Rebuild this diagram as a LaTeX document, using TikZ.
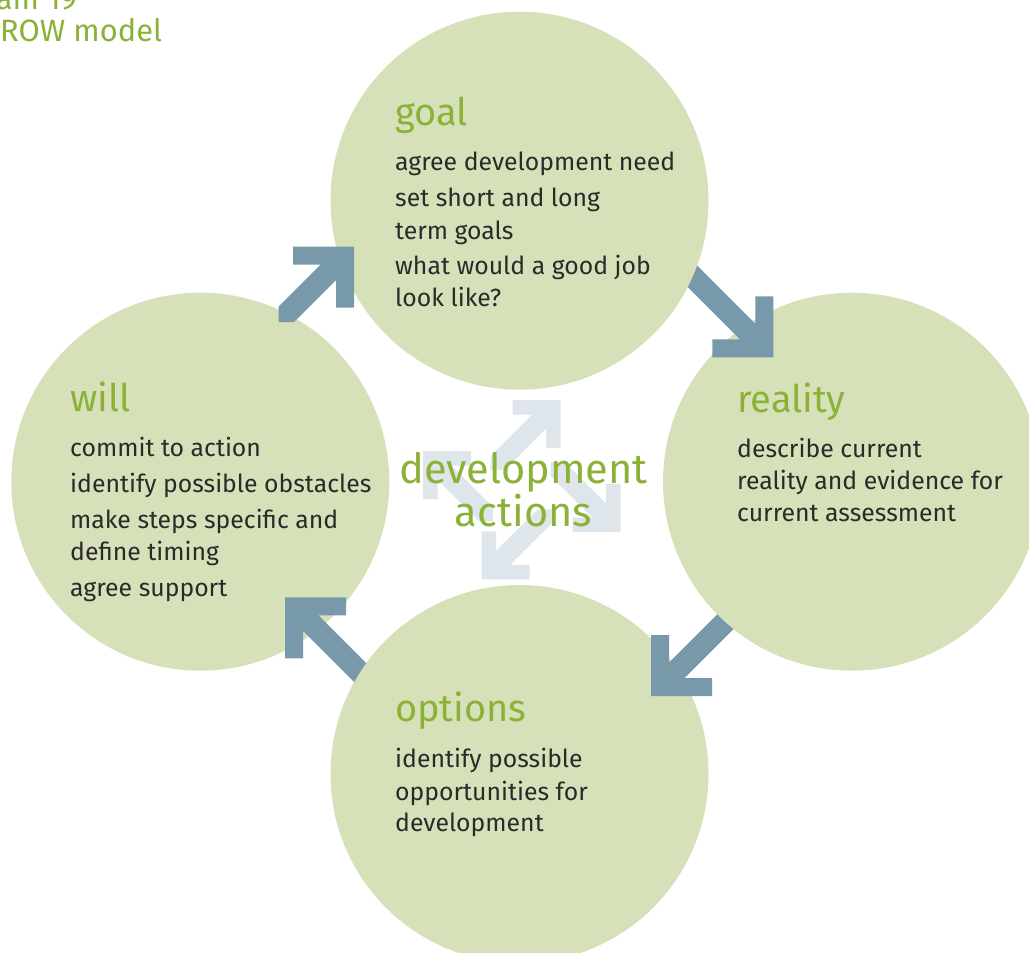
\documentclass[tikz,border=0pt]{standalone}
\usepackage{fontspec}
\setmainfont{Fira Sans}
\definecolor{circfill}{HTML}{D6E1B9}
\definecolor{arrowblue}{HTML}{7899AA}
\definecolor{arrowlight}{HTML}{DEE5EB}
\definecolor{growgreen}{HTML}{8BB237}
\definecolor{textdark}{HTML}{2A2A2A}
\newcommand{\GArrow}[4]{\fill (-#1,0) -- (0,0) -- (0,#1) -- (-#2,#1) -- (-#2,#2+#3) -- (#3-#4,#4) -- (-#4,#4) -- (-#4,#4-#3) -- (-#3-#2,#2) -- (-#1,#2) -- cycle;}
\begin{document}
\begin{tikzpicture}[x=1pt,y=-1pt,
  circ/.style={circle, minimum size=378pt, inner sep=0pt, fill=circfill, draw=none},
  body/.style={anchor=base west, inner sep=0pt, text=textdark, font=\fontsize{24.8}{28}\selectfont},
  head/.style={anchor=base west, inner sep=0pt, text=growgreen, font=\fontsize{38}{42}\selectfont},
  centre/.style={anchor=base, inner sep=0pt, text=growgreen, font=\fontsize{41.5}{46}\selectfont},
  ttl/.style={inner sep=0pt, text=growgreen, font=\fontsize{30.8}{34}\selectfont}]
\useasboundingbox (0,0) rectangle (1029,953);
\clip (0,0) rectangle (1029,953);

% light centre arrows
\begin{scope}[shift={(560.7,400)}, fill=arrowlight] \GArrow{48}{14.5}{14}{70} \end{scope}
\begin{scope}[shift={(620.7,532)}, yscale=-1, fill=arrowlight] \GArrow{48}{14.5}{14}{70} \end{scope}
\begin{scope}[shift={(481.7,579.3)}, xscale=-1, yscale=-1, fill=arrowlight] \GArrow{48}{14.5}{14}{70} \end{scope}
\begin{scope}[shift={(423,451)}, xscale=-1, fill=arrowlight] \GArrow{48}{14.5}{14}{70} \end{scope}

% circles
\node[circ] (goal) at (519.5,200.7) {};
\node[circ] (reality) at (852,481.7) {};
\node[circ] (options) at (519.5,774) {};
\node[circ] (will) at (200.3,481.7) {};

% blue cycle arrows
\begin{scope}[shift={(354,246.7)}, fill=arrowblue] \GArrow{61}{18}{15.5}{75.5} \end{scope}
\begin{scope}[shift={(773.3,357.3)}, yscale=-1, fill=arrowblue] \GArrow{61}{18}{15.5}{95} \end{scope}
\begin{scope}[shift={(651,696)}, xscale=-1, yscale=-1, fill=arrowblue] \GArrow{61}{18}{15.5}{95} \end{scope}
\begin{scope}[shift={(285,597.3)}, xscale=-1, fill=arrowblue] \GArrow{61}{18}{15.5}{95} \end{scope}

% arrow tails disappear into their source circles
\begin{scope} \clip (640,225) rectangle (745,335); \fill[circfill] (goal.center) circle [radius=189pt]; \end{scope}
\begin{scope} \clip (690,570) rectangle (790,665); \fill[circfill] (reality.center) circle [radius=189pt]; \end{scope}
\begin{scope} \clip (315,625) rectangle (415,715); \fill[circfill] (options.center) circle [radius=189pt]; \end{scope}

% title (cropped at the page edge, as in the reference)
\node[ttl, anchor=base east] (ttlA) at (77,9.3) {am 19};
\node[ttl, anchor=base west] (ttlB) at (0,41) {ROW model};

% goal
\node[head] (gH) at (395,125) {goal};
\node[body] (g1) at (395,170.7) {agree development need};
\node[body] (g2) at (395,206.7) {set short and long};
\node[body] (g3) at (395,239) {term goals};
\node[body] (g4) at (395,274) {what would a good job};
\node[body] (g5) at (395,306) {look like?};

% reality
\node[head] (rH) at (737,412) {reality};
\node[body] (r1) at (737,457) {describe current};
\node[body] (r2) at (737,489) {reality and evidence for};
\node[body] (r3) at (737,521) {current assessment};

% options
\node[head] (oH) at (395,721.7) {options};
\node[body] (o1) at (395,767.3) {identify possible};
\node[body] (o2) at (395,800) {opportunities for};
\node[body] (o3) at (395,831.7) {development};

% will
\node[head] (wH) at (70,411.7) {will};
\node[body] (w1) at (70,456.7) {commit to action};
\node[body] (w2) at (70,492.3) {identify possible obstacles};
\node[body] (w3) at (70,528.3) {make steps specific and};
\node[body] (w4) at (70,560) {define timing};
\node[body] (w5) at (70,596) {agree support};

% centre
\node[centre] (c1) at (523.5,483.3) {development};
\node[centre] (c2) at (523.5,526.7) {actions};
\end{tikzpicture}
\end{document}
